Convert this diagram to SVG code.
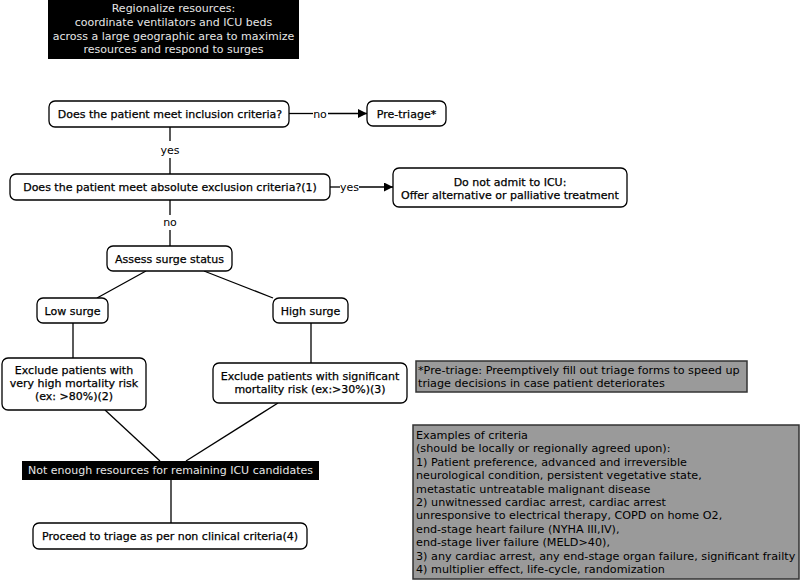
<svg xmlns="http://www.w3.org/2000/svg" width="800" height="581" viewBox="0 0 800 581">
<defs>
<marker id="arr" viewBox="0 0 10 10" refX="10" refY="5" markerWidth="10" markerHeight="9" markerUnits="userSpaceOnUse" orient="auto">
<path d="M0,0 L10,5 L0,10 Z" fill="#000"/>
</marker>
</defs>
<style>
text{font-family:"DejaVu Sans",Verdana,sans-serif;font-size:11px;fill:#000}
.node rect{fill:#fff;stroke:#000;stroke-width:1.3}
.node text{stroke:#000;stroke-width:0.25}
.blk rect{fill:#000;stroke:none}
.blk text{fill:#e6e6e6}
.note rect{fill:#9a9a9a;stroke:#333;stroke-width:1.5}
.note text{font-size:11.2px}
.c{text-anchor:middle}
.conn line,.conn path{stroke:#000;stroke-width:1.3;fill:none}
.lbl{text-anchor:middle}
</style>
<rect width="800" height="581" fill="#fff"/>

<g id="regionalize" class="blk">
<rect x="48" y="0" width="251" height="59"/>
<text class="c" x="173.5" y="12">Regionalize resources:</text>
<text class="c" x="173.5" y="26">coordinate ventilators and ICU beds</text>
<text class="c" x="173.5" y="40">across a large geographic area to maximize</text>
<text class="c" x="173.5" y="53">resources and respond to surges</text>
</g>

<g class="conn" id="connectors">
<line x1="289" y1="113.5" x2="313" y2="113.5"/>
<line x1="328" y1="113.5" x2="367" y2="113.5" marker-end="url(#arr)"/>
<line x1="170" y1="127" x2="170" y2="141"/>
<line x1="170" y1="158" x2="170" y2="174"/>
<line x1="330" y1="187" x2="340" y2="187"/>
<line x1="359" y1="187" x2="393" y2="187" marker-end="url(#arr)"/>
<line x1="170" y1="200" x2="170" y2="215"/>
<line x1="170" y1="230" x2="170" y2="246"/>
<line x1="146" y1="271" x2="97" y2="298"/>
<line x1="204" y1="271" x2="273" y2="298"/>
<line x1="73" y1="323" x2="73" y2="358"/>
<line x1="311" y1="323" x2="311" y2="363"/>
<line x1="105" y1="410" x2="160" y2="461"/>
<line x1="278" y1="403" x2="186" y2="461"/>
<line x1="171" y1="480" x2="171" y2="523"/>
<text class="lbl" x="320" y="117.5">no</text>
<text class="lbl" x="170" y="153.5">yes</text>
<text class="lbl" x="349.5" y="190.5">yes</text>
<text class="lbl" x="170" y="226">no</text>
</g>

<g id="inclusion" class="node">
<rect x="49" y="101" width="240" height="26" rx="6"/>
<text class="c" x="170" y="118">Does the patient meet inclusion criteria?</text>
</g>

<g id="pretriage" class="node">
<rect x="367" y="101" width="79" height="25" rx="6"/>
<text class="c" x="406.5" y="117.5">Pre-triage*</text>
</g>

<g id="exclusion" class="node">
<rect x="10" y="174" width="320" height="26" rx="6"/>
<text class="c" x="170" y="191">Does the patient meet absolute exclusion criteria?(1)</text>
</g>

<g id="donotadmit" class="node">
<rect x="393" y="168" width="234" height="39" rx="6"/>
<text class="c" x="510" y="186">Do not admit to ICU:</text>
<text class="c" x="510" y="199">Offer alternative or palliative treatment</text>
</g>

<g id="assess" class="node">
<rect x="107" y="246" width="125" height="25" rx="6"/>
<text class="c" x="169.5" y="262.5">Assess surge status</text>
</g>

<g id="lowsurge" class="node">
<rect x="37" y="298" width="71" height="25" rx="6"/>
<text class="c" x="72.5" y="314.5">Low surge</text>
</g>

<g id="highsurge" class="node">
<rect x="273" y="298" width="75" height="25" rx="6"/>
<text class="c" x="310.5" y="314.5">High surge</text>
</g>

<g id="excludelow" class="node">
<rect x="2" y="358" width="144" height="52" rx="6"/>
<text class="c" x="74" y="374">Exclude patients with</text>
<text class="c" x="74" y="387">very high mortality risk</text>
<text class="c" x="74" y="400">(ex: &gt;80%)(2)</text>
</g>

<g id="excludehigh" class="node">
<rect x="213" y="363" width="194" height="40" rx="6"/>
<text class="c" x="310" y="380">Exclude patients with significant</text>
<text class="c" x="310" y="393">mortality risk (ex:&gt;30%)(3)</text>
</g>

<g id="notenough" class="blk">
<rect x="22" y="461" width="297" height="19"/>
<text class="c" x="170.5" y="474">Not enough resources for remaining ICU candidates</text>
</g>

<g id="proceed" class="node">
<rect x="33" y="523" width="274" height="26" rx="6"/>
<text class="c" x="170" y="540">Proceed to triage as per non clinical criteria(4)</text>
</g>

<g id="pretriagenote" class="note">
<rect x="416" y="361" width="331" height="31"/>
<text x="418" y="374">*Pre-triage: Preemptively fill out triage forms to speed up</text>
<text x="418" y="387">triage decisions in case patient deteriorates</text>
</g>

<g id="examples" class="note">
<rect x="413" y="425" width="386" height="154"/>
<text x="416" y="439">Examples of criteria</text>
<text x="416" y="452.4">(should be locally or regionally agreed upon):</text>
<text x="416" y="465.8">1) Patient preference, advanced and irreversible</text>
<text x="416" y="479.2">neurological condition, persistent vegetative state,</text>
<text x="416" y="492.6">metastatic untreatable malignant disease</text>
<text x="416" y="506">2) unwitnessed cardiac arrest, cardiac arrest</text>
<text x="416" y="519.4">unresponsive to electrical therapy, COPD on home O2,</text>
<text x="416" y="532.8">end-stage heart failure (NYHA III,IV),</text>
<text x="416" y="546.2">end-stage liver failure (MELD&gt;40),</text>
<text x="416" y="559.6">3) any cardiac arrest, any end-stage organ failure, significant frailty</text>
<text x="416" y="573">4) multiplier effect, life-cycle, randomization</text>
</g>
</svg>
